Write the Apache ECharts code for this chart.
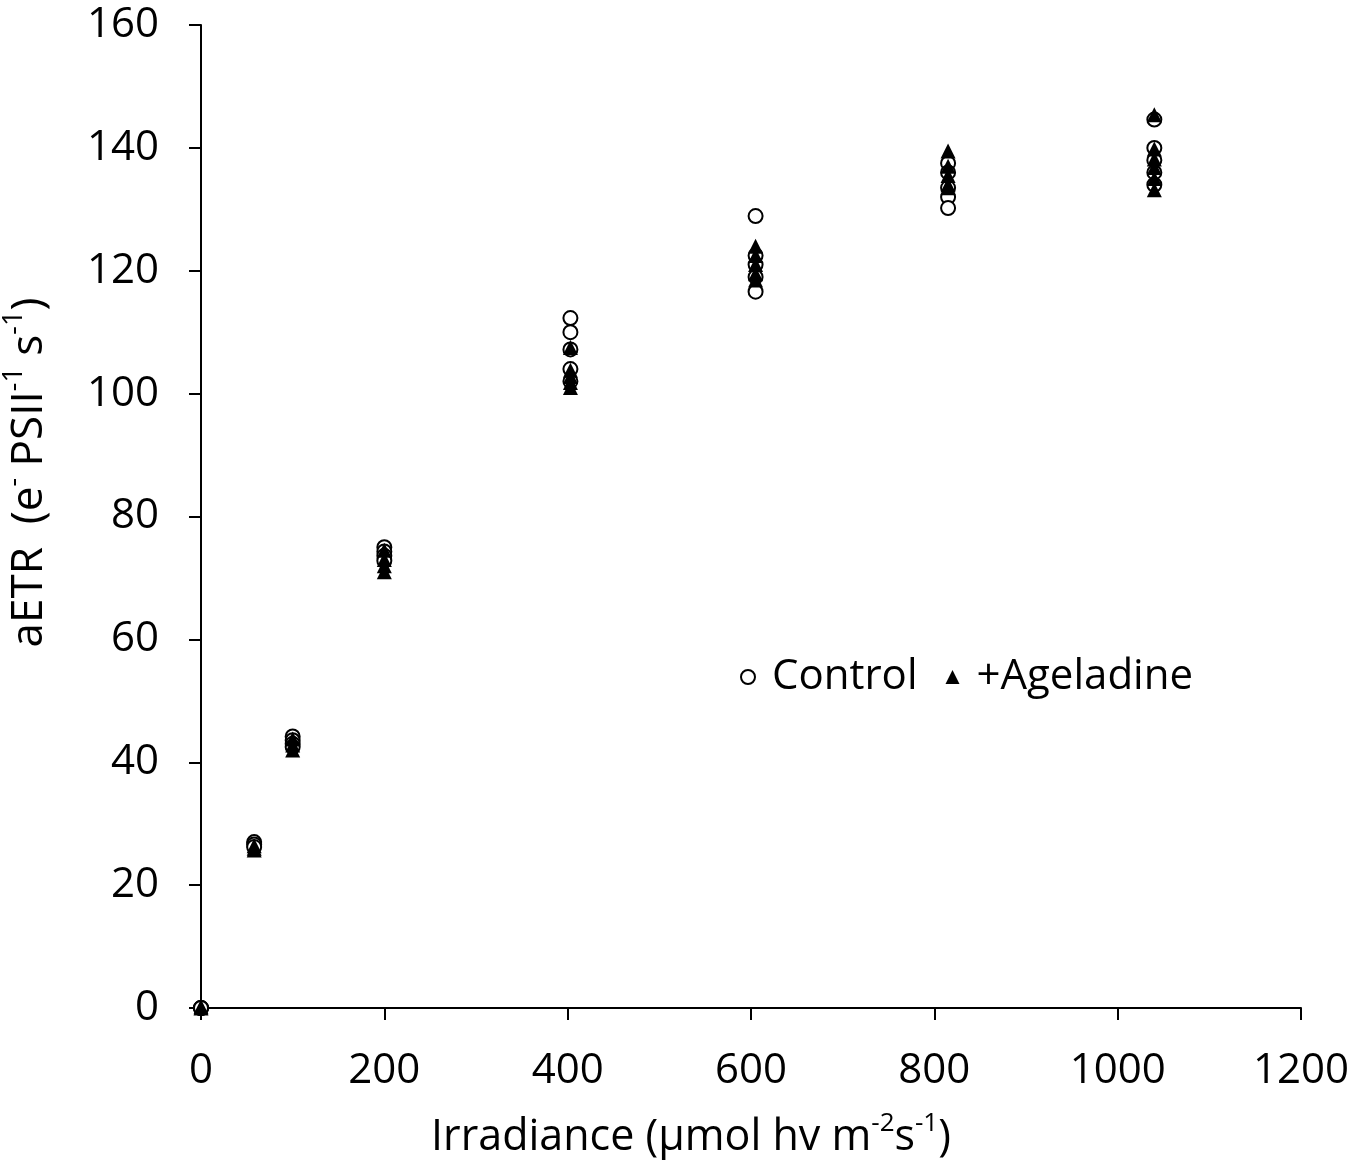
<!DOCTYPE html>
<html>
<head>
<meta charset="utf-8">
<script src="https://cdn.jsdelivr.net/npm/echarts@6/dist/echarts.min.js"></script>
<style>
html,body{margin:0;padding:0;background:#fff;}
#c{width:1368px;height:1160px;}
</style>
</head>
<body>
<div id="c"></div>
<script>
// Irradiance levels (µmol hv m-2 s-1)
const irradiance = [0, 58, 100, 200, 403, 605, 815, 1040];
// Control replicates at each irradiance level
const controlValues = [
  [0, 0, 0],
  [27.0, 26.6, 26.2],
  [44.2, 43.6, 43.0, 42.5],
  [75.0, 74.3, 73.6, 72.8],
  [112.3, 110.0, 107.2, 104.0, 102.0],
  [128.9, 122.5, 121.0, 119.0, 116.6],
  [137.5, 136.0, 133.5, 132.0, 130.2],
  [144.6, 140.0, 138.0, 136.0, 134.0]
];
// +Ageladine replicates at each irradiance level
const ageladineValues = [
  [0, -0.3, 0.2],
  [26.0, 25.7, 26.4],
  [43.8, 42.8, 42.0],
  [74.5, 73.0, 72.0, 71.0],
  [107.5, 103.8, 102.8, 101.8, 101.0],
  [124.0, 122.5, 121.0, 119.5, 118.5],
  [139.5, 137.0, 135.5, 134.0, 133.5],
  [145.4, 139.8, 138.2, 136.8, 135.0, 133.2]
];
const xTicks = [0, 200, 400, 600, 800, 1000, 1200];
const yTicks = [0, 20, 40, 60, 80, 100, 120, 140, 160];

function pairs(vals) {
  const out = [];
  irradiance.forEach((x, i) => vals[i].forEach(v => out.push([x, v])));
  return out;
}

const FONT = 'Open Sans';
const chart = echarts.init(document.getElementById('c'));
chart.setOption({
  animation: false,
  backgroundColor: '#fff',
  textStyle: { fontFamily: FONT, color: '#000' },
  grid: { left: 201, right: 67, top: 25, bottom: 152, containLabel: false, outerBoundsMode: 'none' },
  legend: {
    left: 735, top: 651,
    itemWidth: 14, itemHeight: 14, itemGap: 28,
    textStyle: { fontFamily: FONT, fontSize: 42, color: '#000', padding: [0, 0, 0, 12] },
    data: [
      { name: 'Control', icon: 'circle', itemStyle: { color: '#fff', borderColor: '#000', borderWidth: 2 } },
      { name: '+Ageladine', icon: 'triangle', itemStyle: { color: '#000' } }
    ]
  },
  xAxis: {
    type: 'value', min: xTicks[0], max: xTicks[xTicks.length - 1], interval: 200,
    axisLine: { lineStyle: { color: '#000', width: 2 } },
    axisTick: { show: true, length: 12, lineStyle: { color: '#000', width: 2 } },
    axisLabel: { fontSize: 42, color: '#000', fontFamily: FONT, margin: 42, formatter: v => String(v) },
    splitLine: { show: false },
    name: '{m|Irradiance (µmol hv m}{s|-2}{m|s}{s|-1}{m|)}',
    nameLocation: 'middle', nameGap: 103,
    nameTextStyle: {
      padding: [0, 120, 0, 0],
      rich: {
        m: { fontSize: 43, fontFamily: FONT, color: '#000', verticalAlign: 'bottom', lineHeight: 48 },
        s: { fontSize: 26, fontFamily: FONT, color: '#000', verticalAlign: 'top', lineHeight: 48 }
      }
    }
  },
  yAxis: {
    type: 'value', min: yTicks[0], max: yTicks[yTicks.length - 1], interval: 20,
    axisLine: { show: true, lineStyle: { color: '#000', width: 2 } },
    axisTick: { show: true, length: 12, lineStyle: { color: '#000', width: 2 } },
    axisLabel: { fontSize: 42, color: '#000', fontFamily: FONT, margin: 42, formatter: v => String(v) },
    splitLine: { show: false },
    name: '{m|aETR  (e}{s|-}{m| PSII}{s|-1}{m| s}{s|-1}{m|)}',
    nameLocation: 'middle', nameGap: 150, nameRotate: 90,
    nameTextStyle: {
      padding: [0, 0, 0, 88],
      rich: {
        m: { fontSize: 44, fontFamily: FONT, color: '#000', verticalAlign: 'bottom', lineHeight: 50 },
        s: { fontSize: 27, fontFamily: FONT, color: '#000', verticalAlign: 'top', lineHeight: 50 }
      }
    }
  },
  series: [
    {
      name: 'Control', type: 'scatter', symbol: 'circle', symbolSize: 14,
      itemStyle: { color: '#fff', borderColor: '#000', borderWidth: 2, opacity: 1 },
      data: pairs(controlValues), z: 2
    },
    {
      name: '+Ageladine', type: 'scatter', symbol: 'triangle', symbolSize: 15,
      itemStyle: { color: '#000', opacity: 1 },
      data: pairs(ageladineValues), z: 3
    }
  ]
});
</script>
</body>
</html>
